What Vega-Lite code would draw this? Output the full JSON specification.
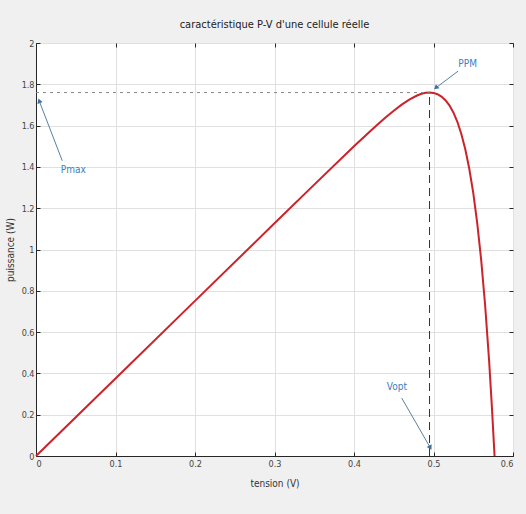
{
  "$schema": "https://vega.github.io/schema/vega-lite/v6.json",
  "width": 477,
  "height": 413,
  "autosize": {"type": "none"},
  "padding": {"left": 36, "top": 43, "right": 13, "bottom": 58},
  "background": "#f0f0f0",
  "title": {"text": "caractéristique P-V d'une cellule réelle", "fontSize": 11, "font": "DejaVu Sans Condensed, Liberation Sans, sans-serif", "fontWeight": "normal", "color": "#222222", "offset": 9},
  "config": {
    "view": {"fill": "white", "stroke": "#262626", "strokeWidth": 1},
    "axis": {
      "grid": true, "gridColor": "#e0e0e0", "domainColor": "#262626", "tickColor": "#262626",
      "tickSize": -4, "labelPadding": 7, "labelFont": "DejaVu Sans Condensed, Liberation Sans, sans-serif", "labelFontSize": 9, "labelColor": "#444444",
      "titleFont": "DejaVu Sans Condensed, Liberation Sans, sans-serif", "titleFontSize": 10, "titleFontWeight": "normal", "titleColor": "#333333"
    }
  },
  "resolve": {"axis": {"x": "independent", "y": "independent"}},
  "datasets": {
    "curve": [
      {"V": 0, "P": 0}, {"V": 0.1, "P": 0.3756}, {"V": 0.2, "P": 0.7512}, {"V": 0.3, "P": 1.1267},
      {"V": 0.35, "P": 1.3142}, {"V": 0.4, "P": 1.4998}, {"V": 0.42, "P": 1.5718}, {"V": 0.43, "P": 1.6067},
      {"V": 0.44, "P": 1.6404}, {"V": 0.45, "P": 1.6723}, {"V": 0.46, "P": 1.7016}, {"V": 0.47, "P": 1.727},
      {"V": 0.48, "P": 1.7469}, {"V": 0.485, "P": 1.7539}, {"V": 0.49, "P": 1.7586}, {"V": 0.495, "P": 1.7602},
      {"V": 0.5, "P": 1.7583}, {"V": 0.505, "P": 1.7521}, {"V": 0.51, "P": 1.7408}, {"V": 0.515, "P": 1.7232},
      {"V": 0.52, "P": 1.6981}, {"V": 0.525, "P": 1.6637}, {"V": 0.53, "P": 1.6184}, {"V": 0.535, "P": 1.5597},
      {"V": 0.54, "P": 1.4852}, {"V": 0.545, "P": 1.3911}, {"V": 0.55, "P": 1.2738}, {"V": 0.555, "P": 1.1278},
      {"V": 0.56, "P": 0.9486}, {"V": 0.565, "P": 0.7277}, {"V": 0.57, "P": 0.4583}, {"V": 0.5735, "P": 0.234},
      {"V": 0.575, "P": 0.1277}, {"V": 0.5768, "P": 0}
    ],
    "mpp": [{"V0": 0, "V": 0.495, "P0": 0, "P": 1.76}],
    "notes": [
      {"label": "Pmax", "tx": 0.047, "ty": 1.385, "x1": 0.033, "y1": 1.43, "x2": 0.004, "y2": 1.72},
      {"label": "PPM", "tx": 0.543, "ty": 1.9, "x1": 0.531, "y1": 1.864, "x2": 0.503, "y2": 1.783},
      {"label": "Vopt", "tx": 0.454, "ty": 0.334, "x1": 0.46, "y1": 0.281, "x2": 0.496, "y2": 0.04}
    ]
  },
  "layer": [
    {
      "data": {"name": "curve"},
      "mark": {"type": "line", "color": "#cc2229", "strokeWidth": 2},
      "encoding": {
        "x": {"field": "V", "type": "quantitative", "scale": {"domain": [0, 0.6], "nice": false}, "axis": {"title": "tension (V)", "tickCount": 6, "format": "~g", "titlePadding": 10}},
        "y": {"field": "P", "type": "quantitative", "scale": {"domain": [0, 2], "nice": false}, "axis": {"title": "puissance (W)", "tickCount": 10, "format": "~g", "labelPadding": 6, "titlePadding": 6}}
      }
    },
    {
      "data": {"name": "mpp"},
      "mark": {"type": "rule", "color": "#888888", "strokeDash": [3, 4], "strokeWidth": 1},
      "encoding": {
        "x": {"field": "V0", "type": "quantitative", "axis": {"orient": "top", "labels": false, "grid": false, "title": null, "domain": false, "tickCount": 6}},
        "x2": {"field": "V"},
        "y": {"field": "P", "type": "quantitative", "axis": {"orient": "right", "labels": false, "grid": false, "title": null, "domain": false, "tickCount": 10}}
      }
    },
    {
      "data": {"name": "mpp"},
      "mark": {"type": "rule", "color": "#333333", "strokeDash": [8, 5], "strokeWidth": 1},
      "encoding": {
        "x": {"field": "V", "type": "quantitative", "axis": null},
        "y": {"field": "P0", "type": "quantitative", "axis": null},
        "y2": {"field": "P"}
      }
    },
    {
      "data": {"name": "notes"},
      "mark": {"type": "rule", "color": "#5b7f9e", "strokeWidth": 1},
      "encoding": {
        "x": {"field": "x1", "type": "quantitative", "axis": null},
        "y": {"field": "y1", "type": "quantitative", "axis": null},
        "x2": {"field": "x2"},
        "y2": {"field": "y2"}
      }
    },
    {
      "data": {"name": "notes"},
      "transform": [{"filter": "datum.label == 'Pmax'"}],
      "mark": {"type": "point", "shape": "triangle-up", "filled": true, "color": "#3f6f9a", "size": 30, "angle": 339, "opacity": 1},
      "encoding": {"x": {"field": "x2", "type": "quantitative", "axis": null}, "y": {"field": "y2", "type": "quantitative", "axis": null}}
    },
    {
      "data": {"name": "notes"},
      "transform": [{"filter": "datum.label == 'PPM'"}],
      "mark": {"type": "point", "shape": "triangle-up", "filled": true, "color": "#3f6f9a", "size": 30, "angle": 229, "opacity": 1},
      "encoding": {"x": {"field": "x2", "type": "quantitative", "axis": null}, "y": {"field": "y2", "type": "quantitative", "axis": null}}
    },
    {
      "data": {"name": "notes"},
      "transform": [{"filter": "datum.label == 'Vopt'"}],
      "mark": {"type": "point", "shape": "triangle-up", "filled": true, "color": "#3f6f9a", "size": 30, "angle": 151, "opacity": 1},
      "encoding": {"x": {"field": "x2", "type": "quantitative", "axis": null}, "y": {"field": "y2", "type": "quantitative", "axis": null}}
    },
    {
      "data": {"name": "notes"},
      "mark": {"type": "text", "color": "#3a80c0", "font": "DejaVu Sans Condensed, Liberation Sans, sans-serif", "fontSize": 10},
      "encoding": {
        "x": {"field": "tx", "type": "quantitative", "axis": null},
        "y": {"field": "ty", "type": "quantitative", "axis": null},
        "text": {"field": "label"}
      }
    }
  ]
}
